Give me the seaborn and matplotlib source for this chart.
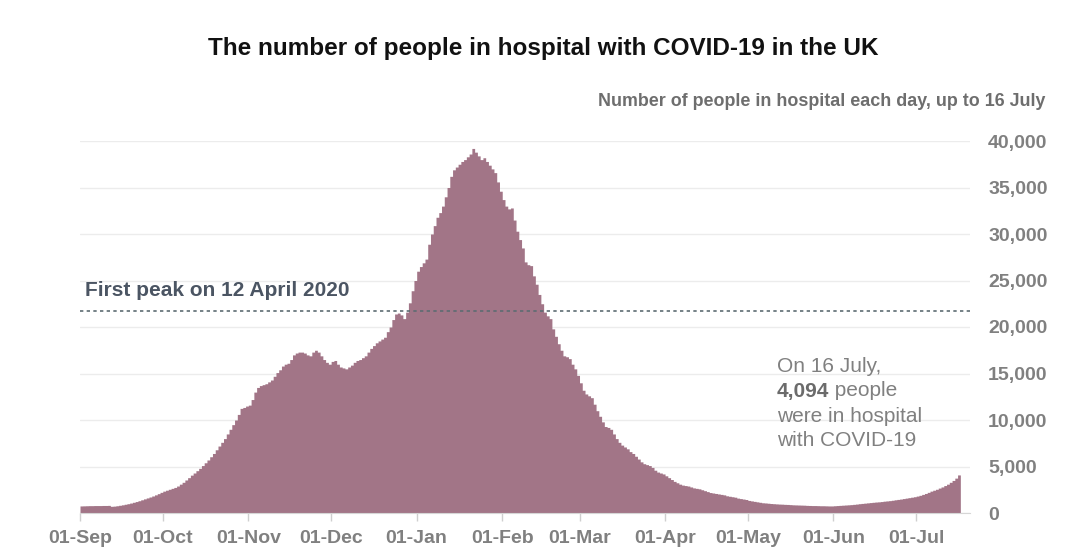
import numpy as np
import pandas as pd
import matplotlib
matplotlib.use("Agg")
import matplotlib.pyplot as plt
import seaborn as sns

# ---------------- data ----------------
title = "The number of people in hospital with COVID-19 in the UK"
subtitle = "Number of people in hospital each day, up to 16 July"
start_date = "2020-09-01"

sep_2020 = [760, 770, 780, 790, 790, 800, 800, 800, 810, 810, 820, 720, 740, 780, 830,
            880, 940, 1000, 1070, 1150, 1230, 1320, 1420, 1520, 1620, 1720, 1830, 1950, 2080, 2220]
oct_2020 = [2350, 2450, 2550, 2650, 2750, 2900, 3100, 3300, 3550, 3800, 4070, 4300, 4550, 4800,
            5100, 5400, 5700, 6050, 6400, 6800, 7200, 7600, 8000, 8500, 9000, 9500, 10000, 10600,
            11250, 11350, 11500]
nov_2020 = [11600, 12200, 13000, 13500, 13700, 13800, 13900, 14100, 14300, 14700, 15100, 15400,
            15800, 16000, 16100, 16500, 17000, 17200, 17300, 17300, 17200, 17000, 16900, 17300,
            17500, 17300, 16900, 16500, 16200, 16000]
dec_2020 = [16300, 16400, 16000, 15700, 15600, 15500, 15700, 15900, 16200, 16400, 16500, 16700,
            16900, 17300, 17700, 18000, 18300, 18500, 18700, 18900, 19500, 20000, 20800, 21400,
            21500, 21300, 20900, 21600, 22600, 23900, 25000]
jan_2021 = [26000, 26500, 26900, 27300, 28900, 30000, 30900, 31800, 32300, 33000, 34000, 35000,
            36200, 36900, 37200, 37500, 37800, 38000, 38300, 38600, 39200, 38800, 38400, 38000,
            38200, 37800, 37400, 37000, 36600, 35600, 34600]
feb_2021 = [33700, 33000, 32700, 32800, 31500, 30300, 29400, 28500, 27000, 26700, 26600, 25500,
            24600, 23500, 22500, 21600, 21200, 20900, 19800, 19000, 18200, 17500, 16900, 16800,
            16600, 16000, 15500, 14800]
mar_2021 = [14000, 13200, 12800, 12600, 12400, 11700, 11000, 10400, 9800, 9300, 9200, 9000, 8500,
            8000, 7600, 7300, 7100, 6900, 6600, 6400, 6100, 5800, 5500, 5300, 5200, 5100, 4900,
            4600, 4400, 4300, 4200]
apr_2021 = [4000, 3800, 3600, 3400, 3250, 3100, 3000, 2950, 2900, 2800, 2700, 2650, 2600, 2500,
            2400, 2300, 2200, 2150, 2100, 2050, 2000, 1950, 1850, 1800, 1750, 1700, 1600, 1550,
            1500, 1450]
may_2021 = [1350, 1300, 1250, 1200, 1150, 1100, 1080, 1050, 1020, 1000, 980, 960, 950, 930, 920,
            900, 880, 870, 860, 850, 840, 820, 810, 800, 800, 790, 780, 780, 770, 760, 760]
jun_2021 = [780, 800, 820, 840, 860, 880, 900, 930, 960, 1000, 1030, 1060, 1090, 1120, 1150, 1180,
            1200, 1230, 1270, 1300, 1330, 1370, 1420, 1460, 1500, 1550, 1600, 1650, 1700, 1750]
jul_2021 = [1820, 1900, 2000, 2100, 2220, 2350, 2450, 2550, 2680, 2800, 2950, 3100, 3300, 3500,
            3750, 4094]

month_labels = ["01-Sep", "01-Oct", "01-Nov", "01-Dec", "01-Jan", "01-Feb",
                "01-Mar", "01-Apr", "01-May", "01-Jun", "01-Jul"]
y_ticks = [0, 5000, 10000, 15000, 20000, 25000, 30000, 35000, 40000]

first_peak_value = 21683
first_peak_label = "First peak on 12 April 2020"
note_line1 = "On 16 July,"
note_bold = "4,094"
note_rest = " people"
note_line3 = "were in hospital"
note_line4 = "with COVID-19"

# ---------------- build table ----------------
values = np.array(sep_2020 + oct_2020 + nov_2020 + dec_2020 + jan_2021 + feb_2021 +
                  mar_2021 + apr_2021 + may_2021 + jun_2021 + jul_2021)
dates = pd.date_range(start_date, periods=len(values), freq="D")
df = pd.DataFrame({"date": dates, "patients": values})
df["day"] = (df["date"] - df["date"].iloc[0]).dt.days
month_idx = df.loc[df["date"].dt.day == 1, "day"].tolist()

# ---------------- style ----------------
sns.set_style("white")
plt.rcParams["font.family"] = ["Liberation Sans", "DejaVu Sans"]

FILL = "#a27587"
GREY = "#808080"

fig = plt.figure(figsize=(10.8, 5.48), dpi=100)
ax = fig.add_axes([80 / 1080, 35 / 548, 890 / 1080, 372 / 548])

ax.yaxis.grid(True, color="#ececec", linewidth=1)
ax.set_axisbelow(True)

sns.histplot(data=df, x="day", weights="patients", discrete=True, element="step",
             fill=True, color=FILL, alpha=1, linewidth=0, ax=ax)

ax.axhline(first_peak_value, color="#5d6c72", linestyle=(0, (2, 2)), linewidth=1.2, zorder=5)

ax.set_xlim(-0.5, 322)
ax.set_ylim(0, 40000)
ax.set_xlabel("")
ax.set_ylabel("")

ax.yaxis.tick_right()
ax.set_yticks(y_ticks)
ax.set_yticklabels([f"{v:,}" for v in y_ticks], fontweight="bold")
ax.tick_params(axis="y", length=0, pad=13, labelsize=14, labelcolor=GREY)

ax.set_xticks([i - 0.5 for i in month_idx])
ax.set_xticklabels(month_labels, fontweight="bold")
ax.tick_params(axis="x", length=6, width=1, color="#cfcfcf", pad=6,
               labelsize=14, labelcolor=GREY, bottom=True)

for s in ["top", "left", "right"]:
    ax.spines[s].set_visible(False)
ax.spines["bottom"].set_color("#d6d6d6")

# ---------------- texts ----------------
fig.text(0.503, 1 - 48 / 548, title, ha="center", va="center",
         fontsize=17.5, fontweight="bold", color="#111111")
fig.text(1046 / 1080, 1 - 101 / 548, subtitle, ha="right", va="center",
         fontsize=12.9, fontweight="bold", color="#6e6e6e",
         family=["Liberation Sans Narrow", "Liberation Sans", "DejaVu Sans"])
fig.text(85 / 1080, 1 - 290 / 548, first_peak_label, ha="left", va="center",
         fontsize=15, fontweight="bold", color="#4b5563")

nx = 777 / 1080
fig.text(nx, 1 - 366 / 548, note_line1, ha="left", va="center", fontsize=15, color=GREY)
tb = fig.text(nx, 1 - 391 / 548, note_bold, ha="left", va="center", fontsize=15,
              fontweight="bold", color="#6b6b6b")
fig.canvas.draw()
bb = tb.get_window_extent(renderer=fig.canvas.get_renderer())
x_after = fig.transFigure.inverted().transform((bb.x1, bb.y0))[0]
fig.text(x_after, 1 - 391 / 548, note_rest, ha="left", va="center", fontsize=15, color=GREY)
fig.text(nx, 1 - 416 / 548, note_line3, ha="left", va="center", fontsize=15, color=GREY)
fig.text(nx, 1 - 441 / 548, note_line4, ha="left", va="center", fontsize=15, color=GREY)

fig.savefig("out.png", dpi=100, facecolor="white")
